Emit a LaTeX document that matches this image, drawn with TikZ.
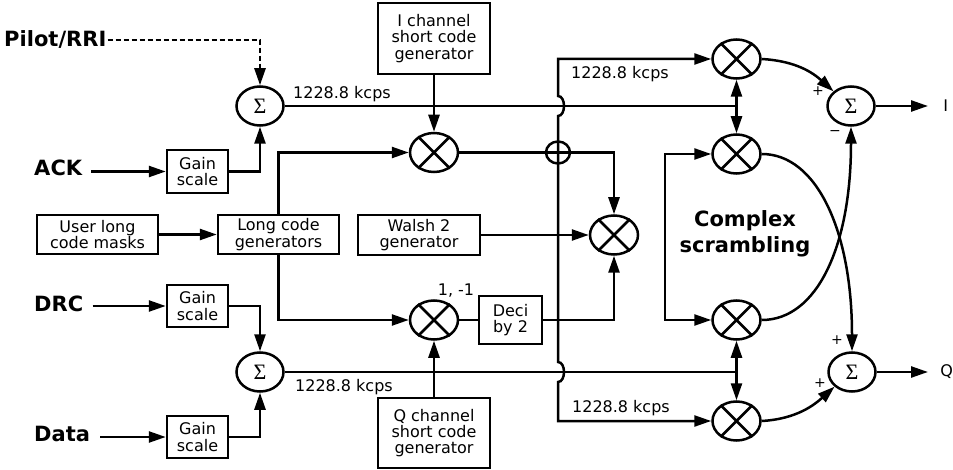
\documentclass[tikz,border=0pt]{standalone}
\usepackage{fontspec}
\setmainfont{DejaVu Sans}
\newfontfamily\sigfont{Liberation Serif}
\usetikzlibrary{arrows.meta,shapes.geometric}
\begin{document}
\begin{tikzpicture}[x=1pt,y=-1pt,line width=2.5pt,
  >={Triangle[length=17pt,width=11pt]},
  txt/.style={font=\fontsize{16}{16.3}\selectfont,align=center,inner sep=0pt},
  box/.style={draw,txt},
  bl/.style={font=\fontsize{21}{24}\selectfont\bfseries,inner sep=0pt,anchor=base west},
  sumn/.style={draw,ellipse,minimum width=47pt,minimum height=39pt,inner sep=0pt,font=\sigfont\fontsize{22}{22}\selectfont},
  mult/.style={draw,ellipse,minimum width=48pt,minimum height=39pt,inner sep=0pt},
  sgn/.style={font=\fontsize{14}{14}\selectfont,inner sep=0pt},
  dashline/.style={dash pattern=on 5pt off 3pt}]
\useasboundingbox (0,0) rectangle (953,470);

% boxes
\node[box,minimum width=112pt,minimum height=71pt] (igen) at (434,38.5) {I channel\\short code\\generator};
\node[box,minimum width=122pt,minimum height=40pt] (walsh) at (419,235) {Walsh 2\\generator};
\node[box,minimum width=121pt,minimum height=39pt] (user) at (97.5,234.5) {User long\\code masks};
\node[box,minimum width=121pt,minimum height=39pt] (long) at (278.5,234.5) {Long code\\generators};
\node[box,minimum width=61pt,minimum height=43pt] (g1) at (197.5,171.5) {Gain\\scale};
\node[box,minimum width=61pt,minimum height=42pt] (g2) at (197.5,306) {Gain\\scale};
\node[box,minimum width=61pt,minimum height=42pt] (g3) at (197.5,437) {Gain\\scale};
\node[box,minimum width=63pt,minimum height=48pt] (deci) at (510.5,320) {Deci\\by 2};
\node[box,minimum width=112pt,minimum height=70pt] (qgen) at (434,433) {Q channel\\short code\\generator};

% summers
\node[sumn] (s1) at (260,106) {Σ};
\node[sumn] (s2) at (260,372) {Σ};
\node[sumn] (sI) at (851,106) {Σ};
\node[sumn] (sQ) at (852,372) {Σ};

% multipliers
\node[mult] (mI) at (434,152.5) {};
\node[mult] (mQ) at (434,320) {};
\node[mult] (mW) at (614,235) {};
\node[mult] (mA) at (736.5,59) {};
\node[mult] (mB) at (736.5,154) {};
\node[mult] (mC) at (736.5,320) {};
\node[mult] (mD) at (736.5,421) {};
\foreach \m in {mI,mQ,mW,mA,mB,mC,mD}
  \draw (\m.45) -- (\m.225) (\m.135) -- (\m.315);

% small crossing circle
\node[draw,ellipse,minimum width=24pt,minimum height=22pt,inner sep=0pt] (xo) at (558,152.5) {};

% input labels
\node[bl] (pilot) at (3,47) {Pilot/RRI};
\node[bl] (ack) at (33,176) {ACK};
\node[bl] (drc) at (33,312) {DRC};
\node[bl] (data) at (33,441) {Data};
\coordinate (ackE) at ([xshift=8pt]ack.east);
\coordinate (drcE) at ([xshift=8pt]drc.east);
\coordinate (dataE) at ([xshift=9pt]data.east);

% rate labels
\node[txt] (r1) at (342,94) {1228.8 kcps};
\node[txt] (r2) at (344,387) {1228.8 kcps};
\node[txt] (r3) at (620,74) {1228.8 kcps};
\node[txt] (r4) at (621,408) {1228.8 kcps};
\node[txt] (pm) at (456,291) {1, -1};

\node[font=\fontsize{21}{26}\selectfont\bfseries,align=center,inner sep=0pt] (cs) at (745,234) {Complex\\scrambling};

% outputs
\node[txt,anchor=west] (oI) at (942,106) {I};
\node[txt,anchor=west] (oQ) at (939,372) {Q};

% signs
\node[sgn] (p1) at (818,91) {+};
\node[sgn] (m1) at (835,133) {−};
\node[sgn] (p2) at (837,340) {+};
\node[sgn] (p3) at (820,383) {+};

% coordinates
\coordinate (j1) at (736.5,106);
\coordinate (j2) at (736.5,372);
\coordinate (vt) at (558,59);
\coordinate (vb) at (558,421);
\coordinate (cb) at (665,237);

% connectors
\draw[->,dashline] (pilot.east) -| (s1.north);
\draw[->] (ackE |- g1.west) -- (g1.west);
\draw[->] (drcE |- g2.west) -- (g2.west);
\draw[->] (dataE |- g3.west) -- (g3.west);
\draw[->] (g1.east) -| (s1.south);
\draw[->] (g2.east) -| (s2.north);
\draw[->] (g3.east) -| (s2.south);
\draw[->] (user.east) -- (long.west);
\draw[->] (long.north) |- (mI.west);
\draw[->] (long.south) |- (mQ.west);
\draw[->] (igen.south) -- (mI.north);
\draw[->] (qgen.north) -- (mQ.south);
\draw (mQ.east) -- (deci.west);
\draw[->] (deci.east) -| (mW.south);
\draw[->] (walsh.east) -- (mW.west);
\draw[->] (mI.east) -| (mW.north);

\draw[<->] (mA.west) -- (vt) -- (558,96) .. controls (566,96) and (566,116) .. (558,116)
  -- (558,362) .. controls (566,362) and (566,382) .. (558,382) -- (vb) -- (mD.west);

\draw (s1.east) -- (j1);
\draw[->] (j1) -- (mA.south);
\draw[->] (j1) -- (mB.north);
\draw (s2.east) -- (j2);
\draw[->] (j2) -- (mC.south);
\draw[->] (j2) -- (mD.north);

\draw[<->] (mB.west) -| (cb) |- (mC.west);

\draw[->] (mA.east) .. controls +(35,2) and +(-20,-18) .. (sI.140);
\draw[->] (mB.east) .. controls +(55,0) and +(0,-120) .. (sQ.north);
\draw[->] (mC.east) .. controls +(55,0) and +(0,120) .. (sI.south);
\draw[->] (mD.east) .. controls +(35,-2) and +(-20,18) .. (sQ.220);

\draw[->] (sI.east) -- ([xshift=-14pt]oI.west);
\draw[->] (sQ.east) -- ([xshift=-11pt]oQ.west);
\end{tikzpicture}
\end{document}
